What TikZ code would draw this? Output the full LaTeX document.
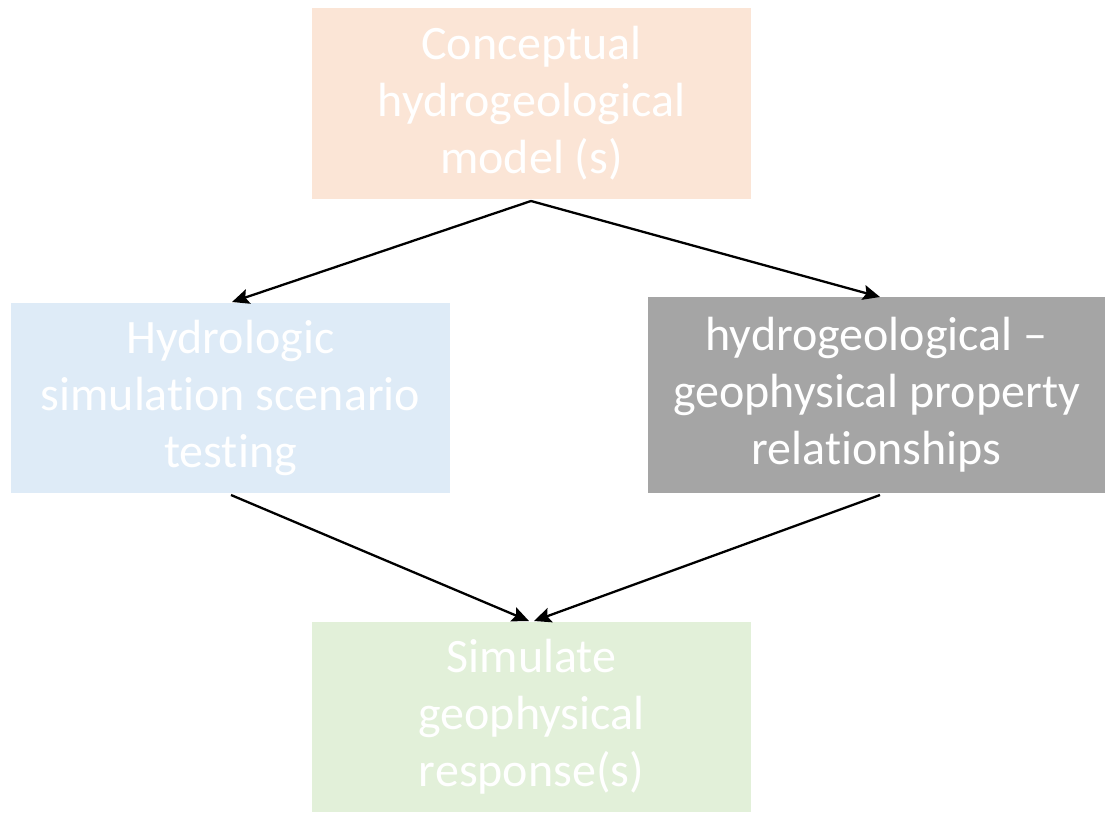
\documentclass[tikz,border=0pt]{standalone}
\usepackage{fontspec}
\setmainfont{Carlito}[Ligatures=CommonOff]
\usetikzlibrary{arrows.meta}
\definecolor{peach}{HTML}{FBE5D6}
\definecolor{lblue}{HTML}{DEEBF7}
\definecolor{dgray}{HTML}{A5A5A5}
\definecolor{lgreen}{HTML}{E2F0D9}
\tikzset{
  box/.style={rectangle, draw=none, inner sep=0pt, align=center, text=white,
    font=\fontsize{48}{57}\selectfont},
  conn/.style={line width=2.3pt, -{Stealth[length=17pt,width=15pt,inset=3pt]}}
}
\begin{document}
\begin{tikzpicture}[x=1pt,y=-1pt]
\useasboundingbox (0,0) rectangle (1105,812);
\node[box, fill=peach, minimum width=439pt, minimum height=191pt] (top) at (531.5,103.5)
  {Conceptual\\hydrogeological\\model (s)};
\node[box, fill=lblue, minimum width=439pt, minimum height=190pt] (left) at (230.5,398)
  {Hydrologic\\simulation scenario\\testing};
\node[box, fill=dgray, minimum width=457pt, minimum height=196pt] (right) at (876.5,395)
  {hydrogeological –\\geophysical property\\relationships};
\node[box, fill=lgreen, minimum width=439pt, minimum height=190pt] (bottom) at (531.5,717)
  {Simulate\\geophysical\\response(s)};
\coordinate (tout) at (531,201);
\coordinate (lin) at (232,302);
\coordinate (rin) at (880,297);
\coordinate (lout) at (231,495);
\coordinate (rout) at (880,495);
\coordinate (bin1) at (529,621);
\coordinate (bin2) at (534,621);
\draw[conn] (tout) -- (lin);
\draw[conn] (tout) -- (rin);
\draw[conn] (lout) -- (bin1);
\draw[conn] (rout) -- (bin2);
\end{tikzpicture}
\end{document}
